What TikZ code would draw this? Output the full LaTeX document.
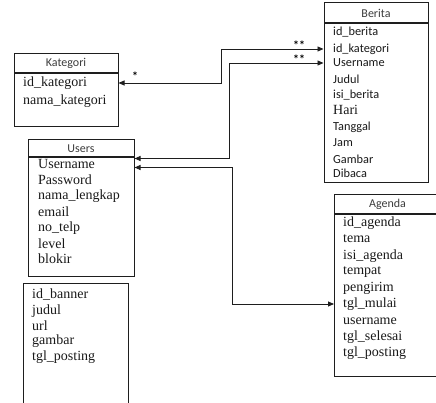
\documentclass[tikz,border=0pt]{standalone}
\usepackage{fontspec}
\setmainfont{Liberation Serif}
\newfontfamily\calfont{Carlito}
\usetikzlibrary{arrows.meta}
\definecolor{cLine}{RGB}{30, 30, 30}
\definecolor{cHead}{RGB}{60, 60, 60}
\tikzset{
  hdB/.style   = {draw=cLine, line width=1pt, inner sep=0pt,
                  font=\calfont\fontsize{12}{14}\selectfont, text=cHead},
  bodyB/.style = {draw=cLine, line width=1pt, inner sep=0pt},
  fld/.style   = {anchor=west, inner sep=0pt,
                  font=\fontsize{14}{16}\selectfont, text=black!90},
  sfld/.style  = {fld, font=\calfont\fontsize{12.3}{14}\selectfont},
  link/.style  = {{Triangle[length=6pt,width=5pt]}-{Triangle[length=6pt,width=5pt]},
                  line width=0.9pt, cLine},
  mult/.style  = {inner sep=0pt, font=\calfont\bfseries\fontsize{12}{12}\selectfont},
}

\begin{document}
\begin{tikzpicture}[x=1pt, y=-1pt]
\useasboundingbox (0,0) rectangle (436,403);

%% ─── Kategori ────────────────────────────────────────────────────
\node[hdB, minimum width=104pt, minimum height=19pt] (katH) at (66,63.5) {Kategori};
\node[bodyB, minimum width=104pt, minimum height=53pt, anchor=north] (kat) at (katH.south) {};
\node[fld] (katId)   at (23,83)  {id\_kategori};
\node[fld] (katNama) at (23,101) {nama\_kategori};

%% ─── Berita ──────────────────────────────────────────────────────
\node[hdB, minimum width=104pt, minimum height=20pt] (berH) at (376,13) {Berita};
\node[bodyB, minimum width=104pt, minimum height=159pt, anchor=north] (ber) at (berH.south) {};
\node[sfld] (berId)   at (333,32)  {id\_berita};
\node[sfld] (berKat)  at (333,49)  {id\_kategori};
\node[sfld] (berUser) at (333,63)  {Username};
\node[sfld] (berJdl)  at (333,79)  {Judul};
\node[sfld] (berIsi)  at (333,95)  {isi\_berita};
\node[fld]  (berHari) at (333,110) {Hari};
\node[sfld] (berTgl)  at (333,127) {Tanggal};
\node[sfld] (berJam)  at (333,143) {Jam};
\node[sfld] (berGbr)  at (333,159) {Gambar};
\node[sfld] (berBaca) at (333,173) {Dibaca};

%% ─── Users ───────────────────────────────────────────────────────
\node[hdB, minimum width=106pt, minimum height=17pt] (usrH) at (81,148.5) {Users};
\node[bodyB, minimum width=106pt, minimum height=118pt, anchor=north] (usr) at (usrH.south) {};
\node[fld] (usrName) at (38,164) {Username};
\node[fld] (usrPass) at (38,180) {Password};
\node[fld] (usrNama) at (38,196) {nama\_lengkap};
\node[fld] (usrMail) at (38,212) {email};
\node[fld] (usrTelp) at (38,228) {no\_telp};
\node[fld] (usrLvl)  at (38,244) {level};
\node[fld] (usrBlk)  at (38,259) {blokir};

%% ─── Agenda (runs past the right edge) ──────────────────────────
\node[hdB, minimum width=112pt, minimum height=19pt, anchor=west] (agH) at (334,204.5) {\hspace*{-6pt}Agenda};
\node[bodyB, minimum width=112pt, minimum height=161pt, anchor=north] (ag) at (agH.south) {};
\node[fld] (agId)    at (343,223) {id\_agenda};
\node[fld] (agTema)  at (343,239) {tema};
\node[fld] (agIsi)   at (343,256) {isi\_agenda};
\node[fld] (agTmp)   at (343,272) {tempat};
\node[fld] (agKirim) at (343,288) {pengirim};
\node[fld] (agMulai) at (343,304) {tgl\_mulai};
\node[fld] (agUser)  at (343,321) {username};
\node[fld] (agSls)   at (343,337) {tgl\_selesai};
\node[fld] (agPost)  at (343,353) {tgl\_posting};

%% ─── Banner (no header) ──────────────────────────────────────────
\node[bodyB, minimum width=105pt, minimum height=127pt] (ban) at (75.5,346.5) {};
\node[fld] (banId)   at (32,295) {id\_banner};
\node[fld] (banJdl)  at (32,311) {judul};
\node[fld] (banUrl)  at (32,326) {url};
\node[fld] (banGbr)  at (32,341) {gambar};
\node[fld] (banPost) at (32,357) {tgl\_posting};

%% ─── Relations ───────────────────────────────────────────────────
\draw[link] (kat.east |- katId) -- ++(103,0) |- (ber.west |- berKat);
\draw[link] ([yshift=-1pt]usr.north east) -- ++(95,0) |- (ber.west |- berUser);
\draw[link] ([yshift=-10pt]usr.north east) -- ++(98,0) |- (ag.west |- agMulai);

\node[mult] (mKat)  at (135,76) {*};
\node[mult] (mBer1) at (299,45) {**};
\node[mult] (mBer2) at (299,59) {**};

\end{tikzpicture}
\end{document}
